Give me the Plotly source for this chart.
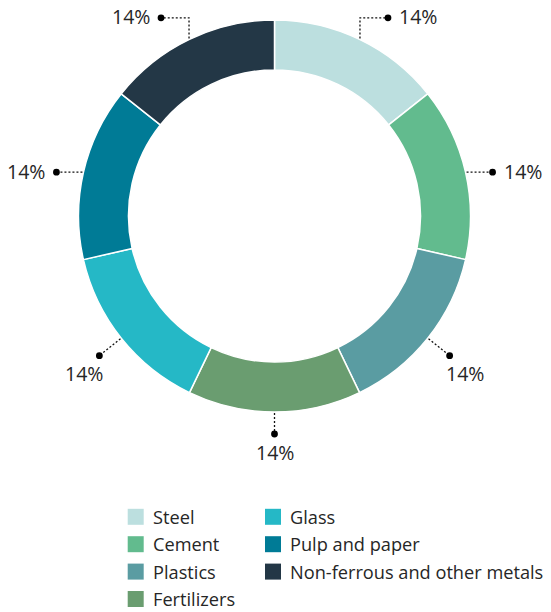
import math
import plotly.graph_objects as go

# Sector shares of the total (each slice is labelled with its share)
categories = [
    "Steel",
    "Cement",
    "Plastics",
    "Fertilizers",
    "Glass",
    "Pulp and paper",
    "Non-ferrous and other metals",
]
shares = [14, 14, 14, 14, 14, 14, 14]
colors = ["#bcdfdf", "#62bb8e", "#5a9ca2", "#6a9d70", "#25b8c6", "#007b96", "#233746"]

W, H = 551, 612
FONT = "Open Sans"
TEXT_COLOR = "#262626"

# donut geometry in pixels
cx, cy = 274.5, 216.0
r_out = 196.0
hole = 0.745


def px(x):
    return x / W


def py(y):
    return 1 - y / H


fig = go.Figure()
fig.add_trace(
    go.Pie(
        labels=categories,
        values=shares,
        sort=False,
        direction="clockwise",
        rotation=0,
        hole=hole,
        textinfo="none",
        hoverinfo="label+percent",
        marker=dict(colors=colors, line=dict(color="#ffffff", width=1.5)),
        domain=dict(
            x=[px(cx - r_out), px(cx + r_out)],
            y=[py(cy + r_out), py(cy - r_out)],
        ),
        showlegend=False,
    )
)

shapes = []
annotations = []


def polar(theta_deg, r):
    t = math.radians(theta_deg)
    return cx + r * math.sin(t), cy - r * math.cos(t)


total = sum(shares)
cum = 0.0
for name, v in zip(categories, shares):
    theta = (cum + v / 2) / total * 360.0
    cum += v
    s, c = math.sin(math.radians(theta)), math.cos(math.radians(theta))
    sx, sy = polar(theta, r_out + 1)

    if c > 0.85:
        # top slices: vertical rise, then a short horizontal run
        ey = polar(theta, r_out + 24)[1]
        dx_, dy_ = sx + 28 * (1 if s > 0 else -1), ey
        pts = [(sx, sy), (sx, ey), (dx_, dy_)]
    elif c < -0.85:
        dx_, dy_ = polar(theta, r_out + 22)
        pts = [(sx, sy), (dx_, dy_)]
    elif abs(s) > 0.95:
        dx_, dy_ = sx + 26 * (1 if s > 0 else -1), sy
        pts = [(sx, sy), (dx_, dy_)]
    else:
        dx_, dy_ = polar(theta, r_out + 28)
        pts = [(sx, sy), (dx_, dy_)]

    path = "M " + " L ".join(f"{px(x):.5f},{py(y):.5f}" for x, y in pts)
    shapes.append(
        dict(
            type="path",
            xref="paper",
            yref="paper",
            path=path,
            line=dict(color="#111111", width=1.3, dash="2px,2px"),
        )
    )
    rd = 3.4
    shapes.append(
        dict(
            type="circle",
            xref="paper",
            yref="paper",
            x0=px(dx_ - rd),
            x1=px(dx_ + rd),
            y0=py(dy_ + rd),
            y1=py(dy_ - rd),
            fillcolor="#000000",
            line=dict(width=0),
        )
    )

    label = f"{round(v / total * 100)}%"
    if c <= -0.5:
        ax, ay, anchor = dx_ + 20 * s, dy_ + 18, "center"
    elif s > 0:
        ax, ay, anchor = dx_ + 9, dy_ - 1, "left"
    else:
        ax, ay, anchor = dx_ - 9, dy_ - 1, "right"
    annotations.append(
        dict(
            x=px(ax),
            y=py(ay),
            xref="paper",
            yref="paper",
            text=label,
            showarrow=False,
            xanchor=anchor,
            yanchor="middle",
            font=dict(family=FONT, size=19.5, color=TEXT_COLOR),
        )
    )

# two-column legend below the donut
rows = math.ceil(len(categories) / 2)
col_left = [127.7, 265.0]
row_top = 516.8
row_gap = 27.4
sq = 16
for i, (name, col) in enumerate(zip(categories, colors)):
    ci, ri = divmod(i, rows)
    x0 = col_left[ci]
    yc = row_top + ri * row_gap
    shapes.append(
        dict(
            type="rect",
            xref="paper",
            yref="paper",
            x0=px(x0),
            x1=px(x0 + sq),
            y0=py(yc + sq / 2),
            y1=py(yc - sq / 2),
            fillcolor=col,
            line=dict(width=0),
        )
    )
    annotations.append(
        dict(
            x=px(x0 + sq + 8),
            y=py(yc),
            xref="paper",
            yref="paper",
            text=name,
            showarrow=False,
            xanchor="left",
            yanchor="middle",
            borderpad=0,
            font=dict(family=FONT, size=18.2, color=TEXT_COLOR),
        )
    )

fig.update_layout(
    width=W,
    height=H,
    margin=dict(l=0, r=0, t=0, b=0),
    paper_bgcolor="#ffffff",
    plot_bgcolor="#ffffff",
    shapes=shapes,
    annotations=annotations,
    showlegend=False,
)

fig.write_html("out.html")
